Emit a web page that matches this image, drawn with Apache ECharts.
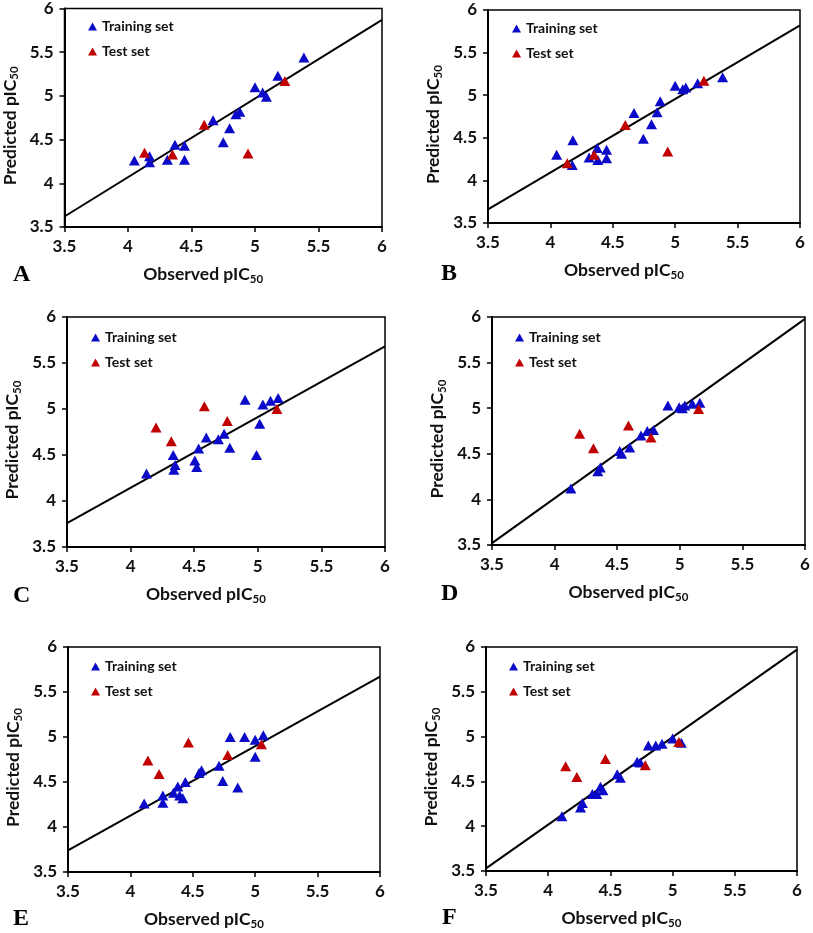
<!DOCTYPE html>
<html><head><meta charset="utf-8">
<script src="https://cdn.jsdelivr.net/npm/echarts@6/dist/echarts.min.js"></script>
<style>html,body{margin:0;padding:0;background:#fff}#c{width:813px;height:933px}</style>
</head><body><div id="c"></div>
<script>
// ---- data ----
const A_train_x = [4.05,4.17,4.17,4.31,4.37,4.445,4.445,4.67,4.75,4.80,4.85,4.88,5.0,5.06,5.09,5.18,5.385];
const A_train_y = [4.26,4.31,4.24,4.27,4.44,4.43,4.27,4.72,4.47,4.63,4.79,4.82,5.10,5.04,4.99,5.23,5.44];
const A_test_x = [4.13,4.35,4.60,4.945,5.235];
const A_test_y = [4.35,4.33,4.67,4.34,5.17];
const A_line = [3.62, 5.87];

const B_train_x = [4.05,4.18,4.175,4.31,4.375,4.38,4.45,4.45,4.67,4.745,4.81,4.855,4.88,5.0,5.06,5.085,5.18,5.38];
const B_train_y = [4.30,4.47,4.18,4.27,4.38,4.24,4.36,4.26,4.79,4.49,4.66,4.80,4.93,5.11,5.07,5.09,5.14,5.21];
const B_test_x = [4.135,4.35,4.60,4.94,5.23];
const B_test_y = [4.20,4.30,4.65,4.34,5.17];
const B_line = [3.66, 5.82];

const C_train_x = [4.125,4.335,4.34,4.35,4.505,4.52,4.535,4.595,4.69,4.735,4.78,4.90,4.99,5.015,5.04,5.10,5.16];
const C_train_y = [4.30,4.50,4.34,4.39,4.44,4.37,4.57,4.69,4.67,4.73,4.58,5.10,4.50,4.84,5.05,5.09,5.12];
const C_test_x = [4.20,4.32,4.58,4.76,5.15];
const C_test_y = [4.80,4.65,5.03,4.87,5.00];
const C_line = [3.76, 5.68];

const D_train_x = [4.13,4.345,4.365,4.52,4.535,4.60,4.69,4.74,4.79,4.905,4.995,5.02,5.04,5.10,5.16];
const D_train_y = [4.12,4.31,4.35,4.53,4.50,4.57,4.70,4.75,4.76,5.03,5.01,5.00,5.03,5.05,5.06];
const D_test_x = [4.20,4.31,4.59,4.77,5.15];
const D_test_y = [4.72,4.56,4.81,4.68,4.99];
const D_line = [3.52, 5.98];

const E_train_x = [4.11,4.26,4.26,4.345,4.38,4.395,4.42,4.44,4.55,4.57,4.71,4.74,4.80,4.86,4.915,5.0,5.0,5.065];
const E_train_y = [4.26,4.35,4.27,4.38,4.45,4.35,4.32,4.50,4.60,4.63,4.68,4.51,5.00,4.44,5.00,4.97,4.78,5.02];
const E_test_x = [4.14,4.23,4.465,4.78,5.05];
const E_test_y = [4.74,4.59,4.94,4.80,4.92];
const E_line = [3.74, 5.67];

const F_train_x = [4.11,4.26,4.275,4.355,4.39,4.42,4.44,4.555,4.58,4.715,4.74,4.805,4.865,4.915,5.0,5.07];
const F_train_y = [4.11,4.21,4.26,4.36,4.36,4.44,4.40,4.58,4.54,4.72,4.71,4.90,4.90,4.92,4.98,4.93];
const F_test_x = [4.14,4.23,4.46,4.78,5.05];
const F_test_y = [4.67,4.55,4.75,4.68,4.94];
const F_line = [3.53, 5.97];

const axisMin = 3.5, axisMax = 6, axisStep = 0.5;
const panelLetters = ['A','B','C','D','E','F'];
const seriesNames = ['Training set','Test set'];
const xTitle = 'Observed pIC';
const yTitle = 'Predicted pIC';
const subText = '50';

// ---- layout ----
const panels = [
  {tx:A_train_x,ty:A_train_y,sx:A_test_x,sy:A_test_y,line:A_line, g:{left:64,top:7,width:318,height:220}, lg:[88,19], lt:[13,276]},
  {tx:B_train_x,ty:B_train_y,sx:B_test_x,sy:B_test_y,line:B_line, g:{left:488,top:10,width:312,height:213}, lg:[512,21], lt:[441,275]},
  {tx:C_train_x,ty:C_train_y,sx:C_test_x,sy:C_test_y,line:C_line, g:{left:67,top:317,width:318,height:230}, lg:[91,330], lt:[13,597]},
  {tx:D_train_x,ty:D_train_y,sx:D_test_x,sy:D_test_y,line:D_line, g:{left:492,top:317,width:313,height:228}, lg:[515,330], lt:[441,595]},
  {tx:E_train_x,ty:E_train_y,sx:E_test_x,sy:E_test_y,line:E_line, g:{left:68,top:647,width:312,height:225}, lg:[91,659], lt:[13,920]},
  {tx:F_train_x,ty:F_train_y,sx:F_test_x,sy:F_test_y,line:F_line, g:{left:486,top:647,width:311,height:224}, lg:[509,659], lt:[442,919]}
];

const FONT = 'Lato, "Open Sans", sans-serif';
const BLUE = '#0a0ac8', RED = '#c00000';
const rich = {
  m: {fontFamily: FONT, fontSize: 17.5, fontWeight: 'bold', color: '#111'},
  s: {fontFamily: FONT, fontSize: 11.5, fontWeight: 'bold', color: '#111', padding: [9,0,0,0]}
};

const option = {animation:false, backgroundColor:'#fff', grid:[], xAxis:[], yAxis:[], series:[], legend:[], graphic:[]};
const zip = (a,b) => a.map((v,i)=>[v,b[i]]);

panels.forEach((p,i)=>{
  option.grid.push(Object.assign({show:true, borderColor:'#000', borderWidth:1.5, backgroundColor:'transparent'}, p.g));
  const common = {
    gridIndex:i, type:'value', min:axisMin, max:axisMax, interval:axisStep,
    splitLine:{show:false},
    axisLine:{show:true, lineStyle:{color:'#000', width:2}},
    axisTick:{show:true, inside:false, length:5, lineStyle:{color:'#000', width:1.5}},
    axisLabel:{color:'#111', fontFamily:FONT, fontSize:17, fontWeight:'bold', margin:11},
    nameLocation:'middle'
  };
  option.xAxis.push(Object.assign({}, common, {
    name:'{m|'+xTitle+'}{s|'+subText+'}', nameGap:37,
    nameTextStyle:{rich, padding:[0,40,0,0]}
  }));
  option.yAxis.push(Object.assign({}, common, {
    name:'{m|'+yTitle+'}{s|'+subText+'}', nameGap:44,
    nameTextStyle:{rich, padding:[0,16,0,0]}
  }));
  option.series.push({type:'line', xAxisIndex:i, yAxisIndex:i, data:[[axisMin,p.line[0]],[axisMax,p.line[1]]],
    showSymbol:false, symbol:'none', lineStyle:{color:'#000', width:2}, z:1, silent:true});
  option.series.push({name:seriesNames[0], type:'scatter', xAxisIndex:i, yAxisIndex:i, data:zip(p.tx,p.ty),
    symbol:'triangle', symbolSize:[11,10], itemStyle:{color:BLUE, opacity:1}, z:3});
  option.series.push({name:seriesNames[1], type:'scatter', xAxisIndex:i, yAxisIndex:i, data:zip(p.sx,p.sy),
    symbol:'triangle', symbolSize:[11,10], itemStyle:{color:RED, opacity:1}, z:4});
  option.legend.push({left:p.lg[0], top:p.lg[1], orient:'vertical', itemGap:10, itemWidth:9, itemHeight:8,
    icon:'triangle', data:seriesNames, selectedMode:false, padding:0,
    textStyle:{fontFamily:FONT, fontSize:14, fontWeight:'bold', color:'#111', lineHeight:15}});
  option.graphic.push({type:'text', left:p.lt[0], top:p.lt[1]-13,
    style:{text:panelLetters[i], fontFamily:'"Liberation Serif", "Times New Roman", serif', fontSize:24, fontWeight:'bold', fill:'#000'}});
});

const chart = echarts.init(document.getElementById('c'), null, {renderer:'canvas'});
chart.setOption(option);
</script>
</body></html>
